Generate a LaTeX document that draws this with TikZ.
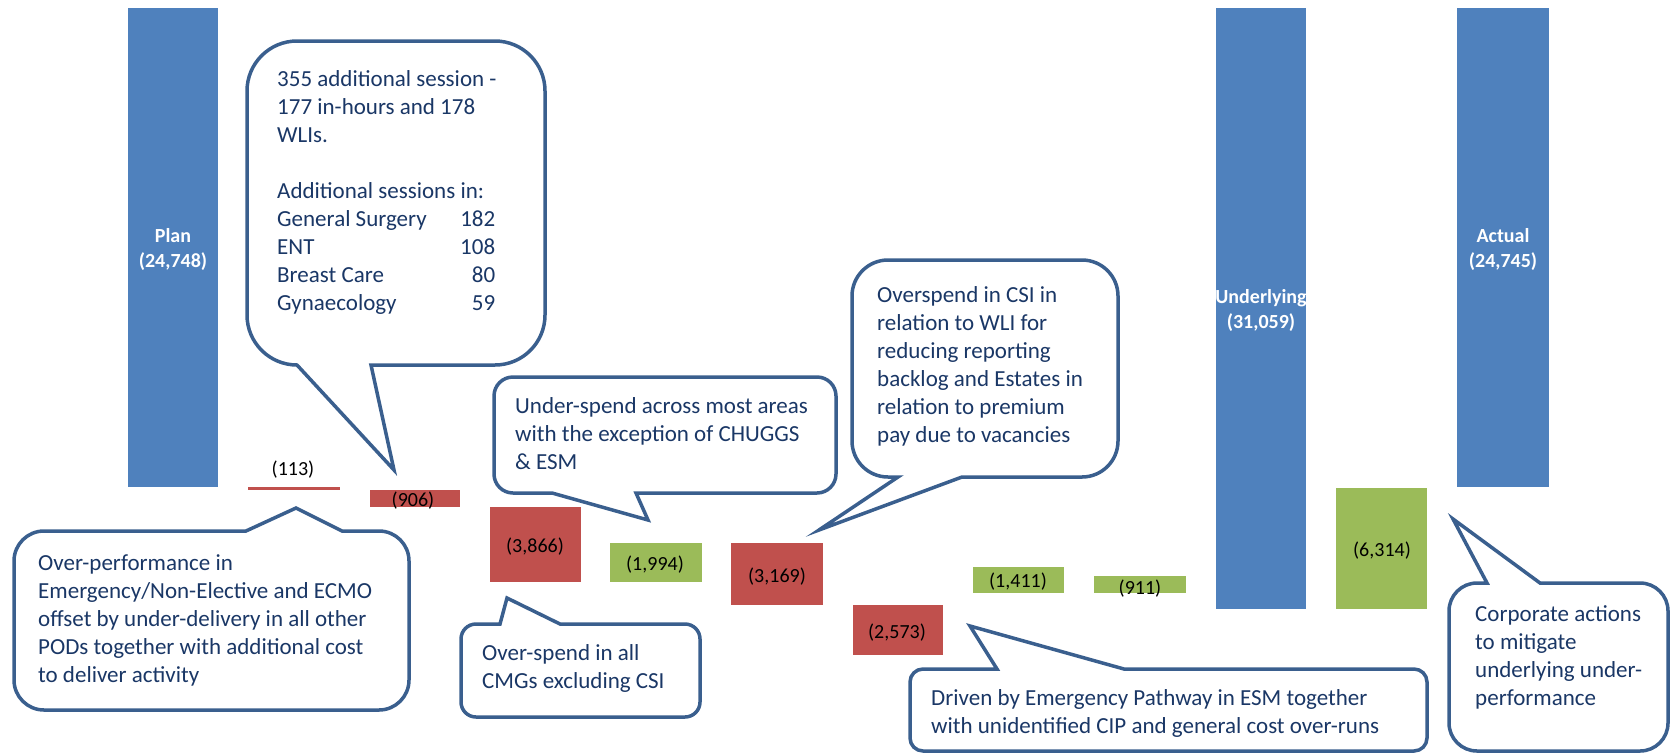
\documentclass[tikz,border=0pt]{standalone}
\usepackage{fontspec}
\setmainfont{Carlito}
\definecolor{barblue}{HTML}{4F81BD}
\definecolor{barred}{HTML}{C0504D}
\definecolor{bargreen}{HTML}{9BBB59}
\definecolor{calloutline}{HTML}{3A5F8E}
\definecolor{callouttext}{HTML}{1A3766}
\tikzset{
  callout/.style={draw=calloutline,line width=3.5pt,fill=white,line join=miter,miter limit=20},
  ctext/.style={inner sep=0pt,anchor=base west,align=left,text=callouttext,font=\fontsize{23}{28}\selectfont},
  barlabel/.style={inner sep=0pt,text=black,font=\fontsize{20}{24}\selectfont},
  totlabel/.style={inner sep=0pt,text=white,align=center,font=\fontsize{20}{25}\selectfont\bfseries},
}
% L T R B r a b tip
\newcommand\calloutBottom[8]{%
  \draw[callout] ({#1+#5},#4) -- (#6,#4) -- #8 -- (#7,#4) -- ({#3-#5},#4)
    arc[start angle=270,end angle=360,radius=#5pt] -- (#3,{#2+#5})
    arc[start angle=0,end angle=90,radius=#5pt] -- ({#1+#5},#2)
    arc[start angle=90,end angle=180,radius=#5pt] -- (#1,{#4-#5})
    arc[start angle=180,end angle=270,radius=#5pt] -- cycle;}
\newcommand\calloutTop[8]{%
  \draw[callout] ({#1+#5},#4) -- ({#3-#5},#4)
    arc[start angle=270,end angle=360,radius=#5pt] -- (#3,{#2+#5})
    arc[start angle=0,end angle=90,radius=#5pt] -- (#7,#2) -- #8 -- (#6,#2) -- ({#1+#5},#2)
    arc[start angle=90,end angle=180,radius=#5pt] -- (#1,{#4-#5})
    arc[start angle=180,end angle=270,radius=#5pt] -- cycle;}
\begin{document}
\begin{tikzpicture}[x=1pt,y=-1pt]
\useasboundingbox (0,0) rectangle (1672,753);
% bars
\fill[barblue]  (128,8) rectangle (218,487);
\fill[barred]   (248,487) rectangle (340,490);
\fill[barred]   (370,490) rectangle (460,507);
\fill[barred]   (490,507) rectangle (581,582);
\fill[bargreen] (610,543) rectangle (702,582);
\fill[barred]   (731,543) rectangle (823,605);
\fill[barred]   (853,605) rectangle (943,655);
\fill[bargreen] (973,567) rectangle (1064,593);
\fill[bargreen] (1094,576) rectangle (1186,593);
\fill[barblue]  (1216,8) rectangle (1306,609);
\fill[bargreen] (1336,488) rectangle (1427,609);
\fill[barblue]  (1457,8) rectangle (1549,487);
% bar labels
\node[totlabel] (plan) at (173,249) {Plan\\(24,748)};
\node[totlabel] (under) at (1261,310) {Underlying\\(31,059)};
\node[totlabel] (actual) at (1503,249) {Actual\\(24,745)};
\node[barlabel] (v113) at (293,470) {(113)};
\node[barlabel] (v906) at (413,501) {(906)};
\node[barlabel] (v3866) at (535,547) {(3,866)};
\node[barlabel] (v1994) at (655,565) {(1,994)};
\node[barlabel] (v3169) at (777,577) {(3,169)};
\node[barlabel] (v2573) at (897,633) {(2,573)};
\node[barlabel] (v1411) at (1018,582) {(1,411)};
\node[barlabel] (v911) at (1140,589) {(911)};
\node[barlabel] (v6314) at (1382,551) {(6,314)};
% callouts
\calloutBottom{247}{41}{545}{365}{50}{297}{371}{(394,470)}
\calloutTop{14}{531}{409}{710}{30}{246}{342}{(296,508)}
\calloutBottom{494}{377}{836}{493}{19}{552}{636}{(648,520)}
\calloutTop{461}{624}{700}{717}{15}{500}{560}{(507,598)}
\calloutBottom{852}{260}{1118}{477}{36}{898}{962}{(819,530)}
\calloutTop{910}{669}{1427}{751}{13}{997}{1124}{(970,626)}
\calloutTop{1449}{583}{1668}{751}{28}{1487}{1540}{(1453,519)}
% callout texts (anchor at the baseline of the last line)
\node[ctext] (sess) at (277,142) {355 additional session -\\177 in-hours and 178\\WLIs.};
\node[ctext] (addl) at (277,310) {Additional sessions in:\\
  \hbox to 218pt{General Surgery\hfill 182}\\
  \hbox to 218pt{ENT\hfill 108}\\
  \hbox to 218pt{Breast Care\hfill 80}\\
  \hbox to 218pt{Gynaecology\hfill 59}};
\node[ctext] (overperf) at (38,682) {Over-performance in\\Emergency/Non-Elective and ECMO\\offset by under-delivery in all other\\PODs together with additional cost\\to deliver activity};
\node[ctext] (underspend) at (515,469) {Under-spend across most areas\\with the exception of CHUGGS\\\& ESM};
\node[ctext] (overspend) at (482,688) {Over-spend in all\\CMGs excluding CSI};
\node[ctext] (csi) at (877,442) {Overspend in CSI in\\relation to WLI for\\reducing reporting\\backlog and Estates in\\relation to premium\\pay due to vacancies};
\node[ctext] (driven) at (931,733) {Driven by Emergency Pathway in ESM together\\with unidentified CIP and general cost over-runs};
\node[ctext] (corp) at (1475,705) {Corporate actions\\to mitigate\\underlying under-\\performance};
\end{tikzpicture}
\end{document}
